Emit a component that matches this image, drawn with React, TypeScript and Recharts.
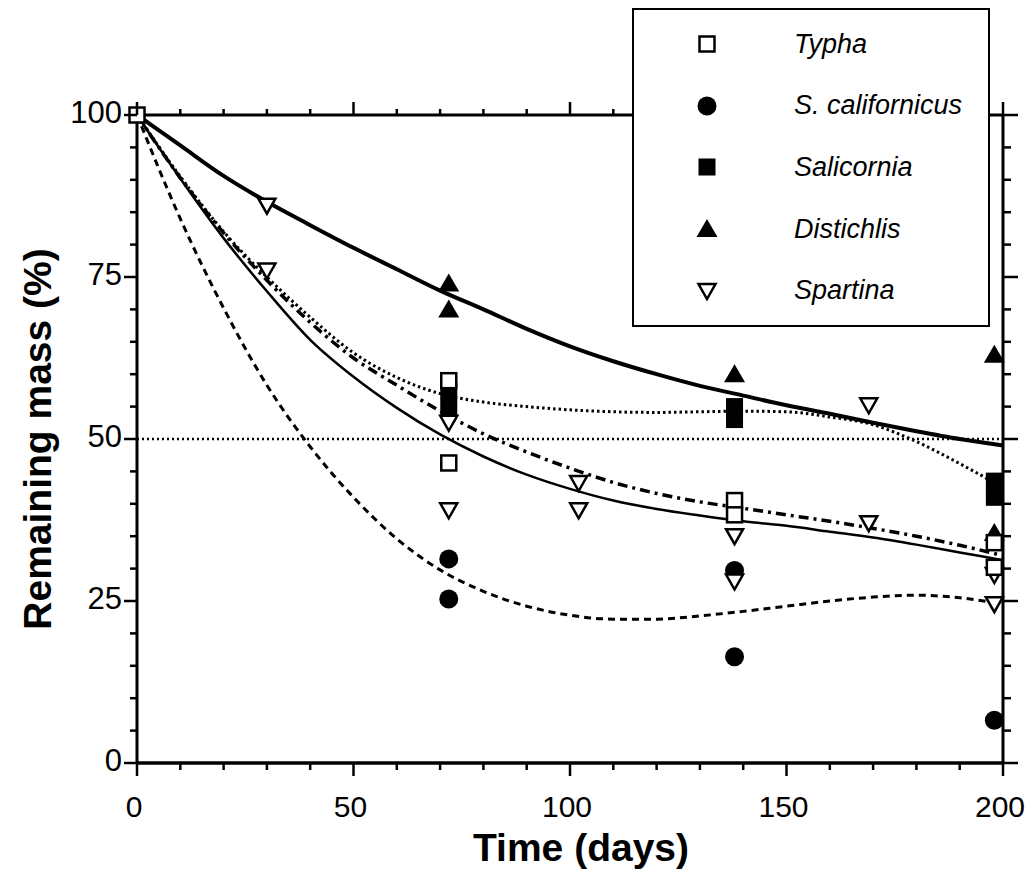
import React from "react";
import {
  ComposedChart,
  Line,
  Scatter,
  XAxis,
  YAxis,
  ReferenceLine,
  Legend,
} from "recharts";

const FONT = '"Liberation Sans", Arial, Helvetica, sans-serif';

// ---------------------------------------------------------------------------
// Fitted decay curves, every 10 days
// ---------------------------------------------------------------------------
const CURVE_DAYS = [0, 10, 20, 30, 40, 50, 60, 70, 80, 90, 100, 110, 120, 130, 140, 150, 160, 170, 180, 190, 200];
const FIT_THICK = [100, 95.3, 90.6, 86.6, 83, 79.5, 76.2, 72.9, 70, 67, 64.3, 62, 60, 58.2, 56.7, 55.2, 53.9, 52.5, 51.2, 50, 49];
const FIT_DOTTED = [100, 90.5, 82, 75, 68.8, 63.3, 59.5, 57, 55.7, 55, 54.5, 54.2, 54.1, 54.2, 54.3, 54.2, 53.4, 52.2, 49.6, 46.2, 42.5];
const FIT_DASHDOT = [100, 90.3, 81.8, 74.5, 68, 62.5, 58.3, 54.3, 50.8, 48, 45.5, 43.3, 41.6, 40.3, 39.3, 38.3, 37.3, 36.2, 35, 33.6, 32];
const FIT_THIN = [100, 90.2, 81, 72.8, 65.3, 59.6, 54.8, 50.7, 47.3, 44.5, 42.3, 40.5, 39.2, 38.2, 37.3, 36.6, 35.7, 34.8, 33.7, 32.5, 31.3];
const FIT_DASHED = [100, 84, 70.2, 58.3, 48.8, 41, 34.6, 29.8, 26.5, 24.2, 22.8, 22.2, 22.2, 22.7, 23.4, 24.2, 25, 25.6, 25.9, 25.5, 24.5];

// ---------------------------------------------------------------------------
// Measured points (day, remaining mass %)
// ---------------------------------------------------------------------------
const TYPHA_DAYS = [0, 72, 72, 138, 138, 198, 198];
const TYPHA_MASS = [100, 59, 46.3, 40.5, 38.3, 34, 30.2];

const SCAL_DAYS = [72, 72, 138, 138, 198];
const SCAL_MASS = [31.5, 25.3, 29.7, 16.4, 6.6];

const SALICORNIA_DAYS = [72, 72, 138, 138, 198, 198];
const SALICORNIA_MASS = [57.5, 55, 55, 53, 43.5, 41];

const DISTICHLIS_DAYS = [72, 72, 138, 198, 198];
const DISTICHLIS_MASS = [74, 70, 60, 63, 35.5];

const SPARTINA_DAYS = [30, 30, 72, 72, 102, 102, 138, 138, 169, 169, 198, 198];
const SPARTINA_MASS = [86, 76, 52.5, 39, 43.2, 39, 35, 28, 55.2, 37, 24.5, 29];

const X_TICKS = [0, 10, 20, 30, 40, 50, 60, 70, 80, 90, 100, 110, 120, 130, 140, 150, 160, 170, 180, 190, 200];
const Y_TICKS = [0, 5, 10, 15, 20, 25, 30, 35, 40, 45, 50, 55, 60, 65, 70, 75, 80, 85, 90, 95, 100];

type MarkerKind = "openSquare" | "circle" | "filledSquare" | "triUp" | "triDown";

const SPECIES: { name: string; kind: MarkerKind; days: number[]; mass: number[] }[] = [
  { name: "Typha", kind: "openSquare", days: TYPHA_DAYS, mass: TYPHA_MASS },
  { name: "S. californicus", kind: "circle", days: SCAL_DAYS, mass: SCAL_MASS },
  { name: "Salicornia", kind: "filledSquare", days: SALICORNIA_DAYS, mass: SALICORNIA_MASS },
  { name: "Distichlis", kind: "triUp", days: DISTICHLIS_DAYS, mass: DISTICHLIS_MASS },
  { name: "Spartina", kind: "triDown", days: SPARTINA_DAYS, mass: SPARTINA_MASS },
];

// draw order in the plot (open symbols on top)
const DRAW_ORDER = [2, 3, 1, 4, 0];

const curveRows = CURVE_DAYS.map((day, i) => ({
  day,
  thick: FIT_THICK[i],
  dotted: FIT_DOTTED[i],
  dashdot: FIT_DASHDOT[i],
  thin: FIT_THIN[i],
  dashed: FIT_DASHED[i],
}));

function marker(kind: MarkerKind, cx: number, cy: number) {
  switch (kind) {
    case "openSquare":
      return <rect x={cx - 7.5} y={cy - 7.5} width={15} height={15} fill="#fff" stroke="#000" strokeWidth={2.5} />;
    case "filledSquare":
      return <rect x={cx - 8.5} y={cy - 8.5} width={17} height={17} fill="#000" />;
    case "circle":
      return <circle cx={cx} cy={cy} r={9.5} fill="#000" />;
    case "triUp":
      return <polygon points={`${cx},${cy - 10} ${cx + 10.5},${cy + 8} ${cx - 10.5},${cy + 8}`} fill="#000" />;
    case "triDown":
      return (
        <polygon
          points={`${cx - 8.5},${cy - 7} ${cx + 8.5},${cy - 7} ${cx},${cy + 8}`}
          fill="#fff"
          stroke="#000"
          strokeWidth={2.5}
        />
      );
  }
}

// ---------------------------------------------------------------------------
// Axis ticks: major ticks carry labels, minor ticks are short
// ---------------------------------------------------------------------------
function BottomTick(props: any) {
  const { x, y, payload } = props;
  const major = payload.value % 50 === 0;
  return (
    <g>
      <line x1={x} x2={x} y1={y} y2={y + (major ? 13 : 7)} stroke="#000" strokeWidth={2.5} />
      {major && (
        <text x={x - 3} y={y + 54} textAnchor="middle" fontSize={30} fontFamily={FONT} fill="#000">
          {payload.value}
        </text>
      )}
    </g>
  );
}

function TopTick(props: any) {
  const { x, y, payload } = props;
  const major = payload.value % 50 === 0;
  return <line x1={x} x2={x} y1={y} y2={y - (major ? 13 : 6)} stroke="#000" strokeWidth={2.5} />;
}

function LeftTick(props: any) {
  const { x, y, payload } = props;
  const major = payload.value % 25 === 0;
  return (
    <g>
      <line x1={x} x2={x - (major ? 13 : 7)} y1={y} y2={y} stroke="#000" strokeWidth={2.5} />
      {major && (
        <text x={x - 15} y={y + 8} textAnchor="end" fontSize={31} fontFamily={FONT} fill="#000">
          {payload.value}
        </text>
      )}
    </g>
  );
}

function RightTick(props: any) {
  const { x, y, payload } = props;
  const major = payload.value % 25 === 0;
  return <line x1={x} x2={x + (major ? 15 : 8)} y1={y} y2={y} stroke="#000" strokeWidth={2.5} />;
}

function LegendBox() {
  return (
    <div
      style={{
        width: 358,
        height: 319,
        boxSizing: "border-box",
        border: "2.5px solid #000",
        background: "#fff",
        position: "relative",
      }}
    >
      {SPECIES.map((s, i) => (
        <div
          key={s.name}
          style={{
            position: "absolute",
            left: 0,
            top: 14 + i * 61.7,
            height: 40,
            display: "flex",
            alignItems: "center",
          }}
        >
          <svg width={160} height={40} style={{ display: "block" }}>
            {marker(s.kind, 73, 20)}
          </svg>
          <span style={{ fontStyle: "italic", fontFamily: FONT, fontSize: 27, color: "#000" }}>{s.name}</span>
        </div>
      ))}
    </div>
  );
}

export default function App() {
  return (
    <div style={{ position: "absolute", left: 0, top: 0, background: "#fff" }}>
      <ComposedChart
        width={1029}
        height={876}
        data={curveRows}
        margin={{ top: 114, right: 25, bottom: 0, left: 0 }}
      >
        <XAxis
          dataKey="day"
          type="number"
          domain={[0, 200]}
          ticks={X_TICKS}
          interval={0}
          tickSize={0}
          tickMargin={0}
          tick={<BottomTick />}
          height={113}
          axisLine={{ stroke: "#000", strokeWidth: 3.5 }}
          label={{
            content: ({ viewBox }: any) => (
              <text
                x={viewBox.x + viewBox.width / 2 + 11}
                y={viewBox.y + 98}
                textAnchor="middle"
                fontSize={39}
                fontWeight="bold"
                fontFamily={FONT}
                fill="#000"
              >
                Time (days)
              </text>
            ),
          }}
        />
        <XAxis
          xAxisId="top"
          dataKey="day"
          orientation="top"
          type="number"
          domain={[0, 200]}
          ticks={X_TICKS}
          interval={0}
          tickSize={0}
          tickMargin={0}
          tick={<TopTick />}
          height={1}
          axisLine={{ stroke: "#000", strokeWidth: 3 }}
        />
        <YAxis
          type="number"
          domain={[0, 100]}
          ticks={Y_TICKS}
          interval={0}
          tickSize={0}
          tickMargin={0}
          tick={<LeftTick />}
          width={137}
          axisLine={{ stroke: "#000", strokeWidth: 3 }}
          label={{
            content: ({ viewBox }: any) => {
              const lx = viewBox.x + 51;
              const ly = viewBox.y + viewBox.height / 2;
              return (
                <text
                  x={lx}
                  y={ly}
                  transform={`rotate(-90, ${lx}, ${ly})`}
                  textAnchor="middle"
                  fontSize={39}
                  fontWeight="bold"
                  fontFamily={FONT}
                  fill="#000"
                >
                  Remaining mass (%)
                </text>
              );
            },
          }}
        />
        <YAxis
          yAxisId="right"
          orientation="right"
          type="number"
          domain={[0, 100]}
          ticks={Y_TICKS}
          interval={0}
          tickSize={0}
          tickMargin={0}
          tick={<RightTick />}
          width={1}
          axisLine={{ stroke: "#000", strokeWidth: 3 }}
        />

        <ReferenceLine y={50} stroke="#000" strokeWidth={2.5} strokeDasharray="2 3" />

        {/* invisible series so the top / right frame axes get a scale */}
        <Line xAxisId="top" yAxisId="right" dataKey="thick" stroke="none" dot={false} activeDot={false} legendType="none" isAnimationActive={false} />

        <Line dataKey="thick" type="monotone" stroke="#000" strokeWidth={4} dot={false} activeDot={false} legendType="none" isAnimationActive={false} />
        <Line dataKey="dotted" type="monotone" stroke="#000" strokeWidth={3} strokeDasharray="2.5 3" dot={false} activeDot={false} legendType="none" isAnimationActive={false} />
        <Line dataKey="dashdot" type="monotone" stroke="#000" strokeWidth={3.5} strokeDasharray="10 5 3 5" dot={false} activeDot={false} legendType="none" isAnimationActive={false} />
        <Line dataKey="thin" type="monotone" stroke="#000" strokeWidth={2.5} dot={false} activeDot={false} legendType="none" isAnimationActive={false} />
        <Line dataKey="dashed" type="monotone" stroke="#000" strokeWidth={3} strokeDasharray="7 5" dot={false} activeDot={false} legendType="none" isAnimationActive={false} />

        {DRAW_ORDER.map((idx) => {
          const s = SPECIES[idx];
          const pts = s.days.map((d, i) => ({ day: d, mass: s.mass[i] }));
          return (
            <Scatter
              key={s.name}
              name={s.name}
              data={pts}
              dataKey="mass"
              isAnimationActive={false}
              shape={(p: any) => marker(s.kind, p.cx, p.cy)}
            />
          );
        })}

        <Legend
          layout="vertical"
          align="center"
          verticalAlign="middle"
          content={() => <LegendBox />}
          wrapperStyle={{ left: 632, top: 8, width: 358, height: 319 }}
        />
      </ComposedChart>
    </div>
  );
}
